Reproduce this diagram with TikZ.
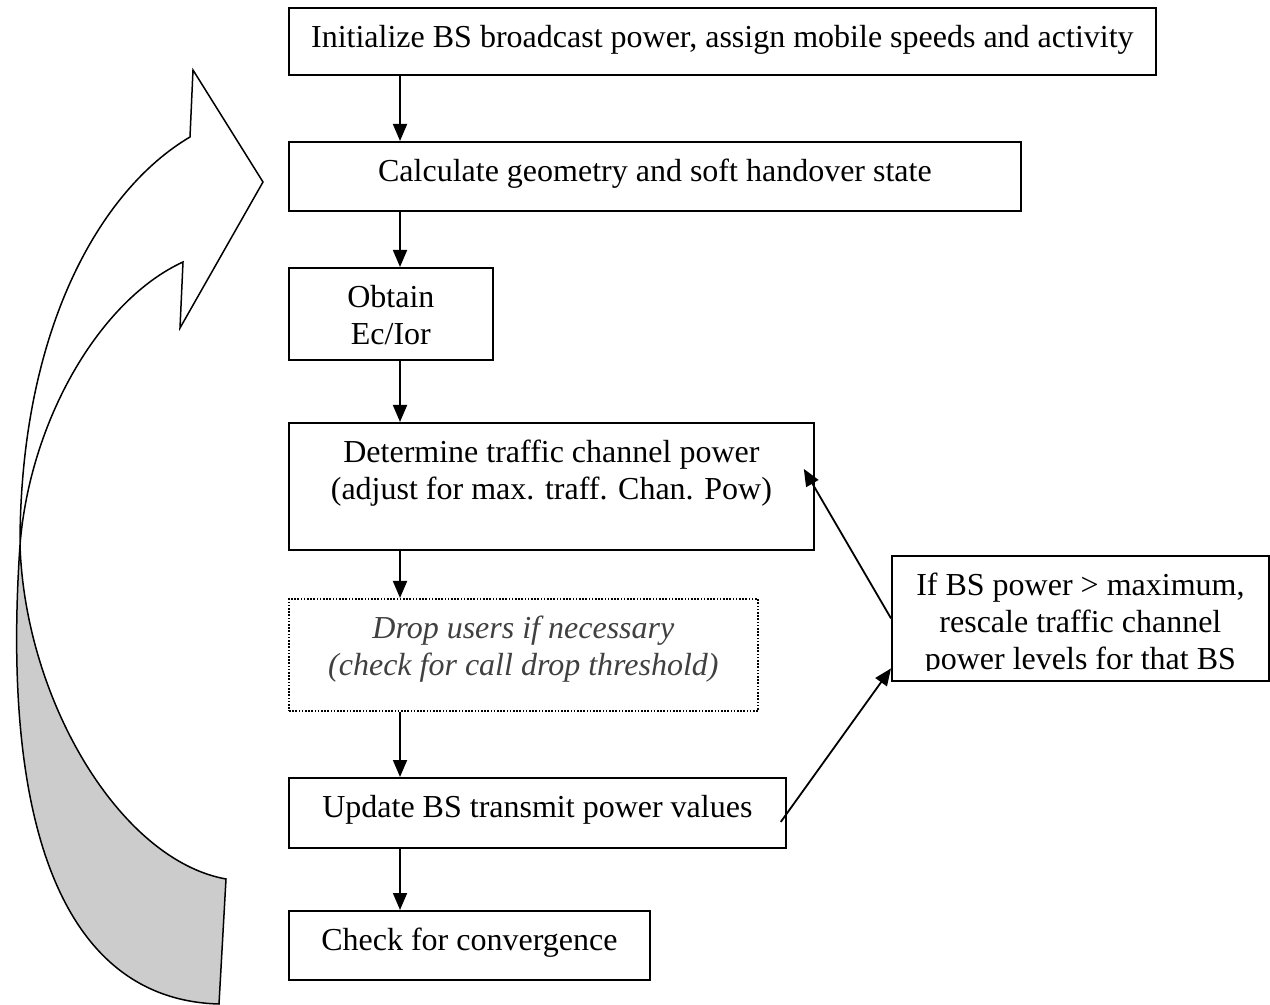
\documentclass[tikz,border=0pt]{standalone}
\usepackage{fontspec}
\setmainfont{Liberation Serif}
\usetikzlibrary{arrows.meta, positioning}
\definecolor{cgrey}{HTML}{404040}
\definecolor{cshade}{HTML}{CCCCCC}
\newcommand{\firstline}{\rule{0pt}{20pt}}
\tikzset{
  every picture/.style={line width=0.9pt},
  flowbox/.style={draw, anchor=north west, inner sep=0pt},
  boxtext/.style={anchor=north, inner sep=0pt, align=center, font=\fontsize{16}{18.4}\selectfont},
  flowarrow/.style={-{Triangle[length=8.5pt, width=7pt]}, line width=0.9pt},
  bigarrow/.style={line width=0.75pt, line join=miter},
}

\begin{document}
\begin{tikzpicture}[x=0.5pt, y=-0.5pt]
  \useasboundingbox (0,0) rectangle (1270,1005);
  % boxes, placed by their top left corner
  \node[flowbox, minimum width=433.5pt, minimum height=33.5pt] (init) at (288,7) {};
  \node[flowbox, minimum width=366pt, minimum height=34.5pt] (calc) at (288,141) {};
  \node[flowbox, minimum width=102pt, minimum height=46pt] (obtain) at (288,267) {};
  \node[flowbox, minimum width=262.5pt, minimum height=63.5pt] (det) at (288,422) {};
  \node[flowbox, minimum width=234.5pt, minimum height=56pt, dash pattern=on 0.8pt off 0.8pt] (drop) at (288,598) {};
  \node[flowbox, minimum width=248.5pt, minimum height=35pt] (update) at (288,777) {};
  \node[flowbox, minimum width=180.5pt, minimum height=34.5pt] (check) at (288,910) {};
  \node[flowbox, minimum width=188.5pt, minimum height=62.5pt] (rbox) at (891,555) {};
  % texts, first baseline 20pt under the top
  \node[boxtext] (initT) at (init.north) {\firstline Initialize BS broadcast power, assign mobile speeds and activity};
  \node[boxtext] (calcT) at (calc.north) {\firstline Calculate geometry and soft handover state};
  \node[boxtext] (obtainT) at (obtain.north) {\firstline Obtain\\ Ec/Ior};
  \node[boxtext] (detT) at (det.north) {\firstline Determine traffic channel power\\ (adjust for max. traff. Chan. Pow)};
  \node[boxtext, text=cgrey, font=\fontsize{16}{18.4}\selectfont\itshape] (dropT) at (drop.north) {\firstline Drop users if necessary\\ (check for call drop threshold)};
  \node[boxtext] (updateT) at (update.north) {\firstline Update BS transmit power values};
  \node[boxtext] (checkT) at (check.north) {\firstline Check for convergence};
  \begin{scope}
    \clip (rbox.north west) rectangle ([yshift=5.5pt]rbox.south east);
    \node[boxtext] (rboxT) at (rbox.north) {\firstline If BS power > maximum,\\ rescale traffic channel\\ power levels for that BS};
  \end{scope}
  % main chain
  \coordinate (ax) at (400,0);
  \foreach \a/\b in {init/calc, calc/obtain, obtain/det, det/drop, drop/update, update/check}
    \draw[flowarrow] (\a.south -| ax) -- (\b.north -| ax);
  % rescale loop
  \draw[flowarrow] ([shift={(-3pt,-4.5pt)}]update.east) -- ([yshift=-25pt]rbox.west);
  \draw[flowarrow] (rbox.west) -- ([shift={(-5.5pt,8.75pt)}]det.east);
  % big curved arrow back to the top
  \draw[bigarrow, fill=cshade] (20,545) .. controls (0,840) and (70,1000) .. (219,1004)
    -- (226,879) .. controls (120,860) and (25,700) .. (20,545) -- cycle;
  \draw[bigarrow] (20,545) .. controls (20,330) and (100,190) .. (190,137) -- (193,70) -- (263,182)
    -- (180,328) -- (183,262) .. controls (100,300) and (30,420) .. (20,545);
\end{tikzpicture}
\end{document}
